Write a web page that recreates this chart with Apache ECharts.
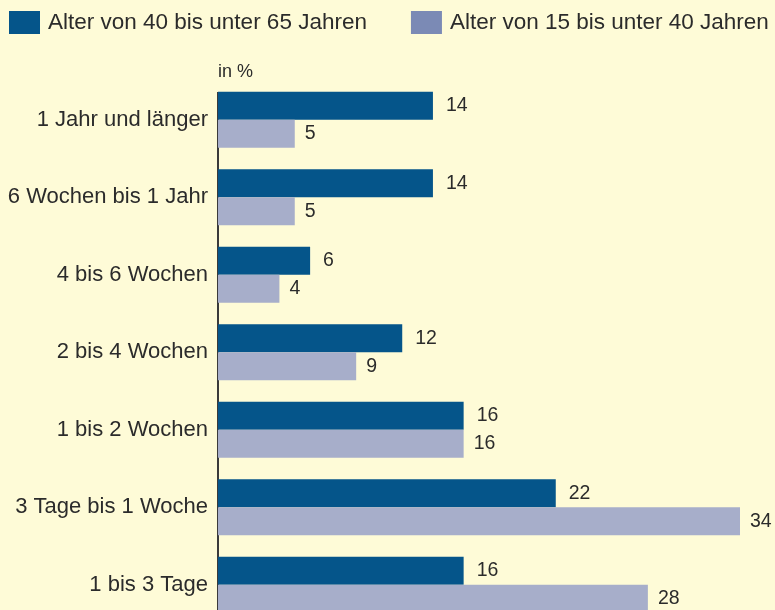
<!DOCTYPE html>
<html><head><meta charset="utf-8">
<script src="https://cdn.jsdelivr.net/npm/echarts@6/dist/echarts.min.js"></script>
<style>html,body{margin:0;padding:0;background:#FEFBD7;overflow:hidden;}#c{width:775px;height:640px;}</style>
</head><body><div id="c"></div>
<script>
const categories = ["1 Jahr und länger","6 Wochen bis 1 Jahr","4 bis 6 Wochen","2 bis 4 Wochen","1 bis 2 Wochen","3 Tage bis 1 Woche","1 bis 3 Tage"];
const seriesNames = ["Alter von 40 bis unter 65 Jahren","Alter von 15 bis unter 40 Jahren"];
const older = [14,14,6,12,16,22,16];
const younger = [5,5,4,9,16,34,28];
const unitLabel = "in %";

const chart = echarts.init(document.getElementById('c'));
const font = "Liberation Sans";
chart.setOption({
  backgroundColor: '#FEFBD7',
  animation: false,
  textStyle: {fontFamily: font},
  legend: {
    left: 9, top: 11, padding: 0, itemWidth: 31, itemHeight: 23, itemGap: 44,
    icon: 'rect',
    textStyle: {fontSize: 22.5, color: '#2b2b2b', fontFamily: font, padding: [0,0,0,3]},
    data: [
      {name: seriesNames[0], itemStyle: {color: '#05558A'}},
      {name: seriesNames[1], itemStyle: {color: '#7B8AB5'}}
    ]
  },
  grid: {left: 218, top: 81, width: 552.7, height: 542.5, containLabel: false},
  xAxis: {type: 'value', min: 0, max: 36, show: false, splitLine: {show: false}},
  yAxis: {
    type: 'category', data: categories, inverse: true,
    axisLine: {show: false}, axisTick: {show: false},
    axisLabel: {fontSize: 22, color: '#2b2b2b', margin: 10, fontFamily: font}
  },
  graphic: [
    {type: 'line', shape: {x1: 218, y1: 92, x2: 218, y2: 640}, style: {stroke: '#3a3a3a', lineWidth: 2}},
    {type: 'text', left: 218, top: 63, style: {text: unitLabel, fontSize: 18, fill: '#2b2b2b', fontFamily: font}}
  ],
  series: [
    {name: seriesNames[0], type: 'bar', data: older, barWidth: 28, barGap: '0%',
     itemStyle: {color: '#05558A'},
     label: {show: true, position: 'right', distance: 13, fontSize: 19.5, color: '#2b2b2b', fontFamily: font}},
    {name: seriesNames[1], type: 'bar', data: younger, barWidth: 28, barGap: '0%',
     itemStyle: {color: '#A7AECA'},
     label: {show: true, position: 'right', distance: 10, fontSize: 19.5, color: '#2b2b2b', fontFamily: font}}
  ]
});
</script></body></html>
